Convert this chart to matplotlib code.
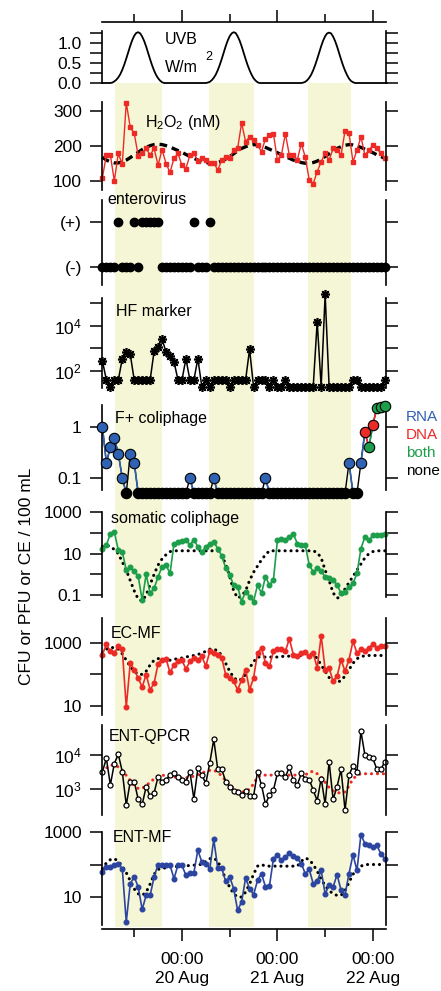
import numpy as np
import matplotlib
matplotlib.use("Agg")
import matplotlib.pyplot as plt
from matplotlib.ticker import FixedLocator, FixedFormatter, NullLocator

plt.rcParams['font.family'] = ['Liberation Sans', 'DejaVu Sans']
plt.rcParams['mathtext.fontset'] = 'custom'
plt.rcParams['mathtext.rm'] = 'Liberation Sans'
plt.rcParams['mathtext.it'] = 'Liberation Sans:italic'
plt.rcParams['mathtext.bf'] = 'Liberation Sans:bold'

# ---------------- data (hours since 00:00 20 Aug) ----------------
hours = np.arange(-20, 52)
daylight_start = [-16.8, 6.8, 31.7]
daylight_end = [-5.1, 18.1, 42.5]

uvb_hours = np.arange(-20, 51.75, 0.5)
uvb_day1 = [0.0, 0.01, 0.04, 0.08, 0.14, 0.22, 0.33, 0.46, 0.61, 0.77, 0.93, 1.07, 1.18, 1.25, 1.27,
            1.24, 1.16, 1.05, 0.91, 0.75, 0.59, 0.44, 0.31, 0.20, 0.12, 0.06, 0.02, 0.0, 0.0]
uvb_day2 = [0.0, 0.01, 0.03, 0.07, 0.13, 0.21, 0.32, 0.45, 0.60, 0.76, 0.92, 1.06, 1.17, 1.24, 1.27,
            1.25, 1.17, 1.06, 0.92, 0.76, 0.60, 0.45, 0.32, 0.21, 0.12, 0.06, 0.02, 0.0, 0.0]
uvb_day3 = [0.0, 0.01, 0.03, 0.07, 0.13, 0.21, 0.32, 0.45, 0.60, 0.76, 0.92, 1.06, 1.17, 1.24, 1.26,
            1.24, 1.16, 1.05, 0.91, 0.75, 0.59, 0.44, 0.31, 0.20, 0.11, 0.05, 0.02, 0.0, 0.0]
uvb = [0.0] * 4 + uvb_day1 + [0.0] * 19 + uvb_day2 + [0.0] * 19 + uvb_day3 + [0.0] * 15

h2o2 = [110, 174, 174, 101, 179, 148, 323, 253, 236, 173, 179, 193,
        174, 193, 145, 190, 150, 125, 165, 179, 145, 136, 174, 179,
        158, 165, 160, 153, 153, 131, 160, 169, 165, 188, 193, 266,
        212, 226, 218, 202, 184, 221, 230, 235, 160, 174, 235, 174,
        174, 160, 207, 169, 103, 93, 127, 155, 179, 160, 193, 188,
        174, 243, 236, 155, 188, 226, 174, 188, 202, 193, 179, 165]
h2o2_model = [168, 160, 155, 152, 152, 155, 160, 167, 175, 182, 190, 196,
              201, 204, 205, 204, 201, 197, 192, 187, 182, 176, 170, 165,
              160, 156, 153, 151, 151, 153, 157, 163, 170, 178, 186, 193,
              198, 202, 204, 203, 200, 196, 191, 186, 181, 175, 170, 165,
              160, 156, 153, 151, 151, 153, 157, 163, 170, 178, 186, 193,
              198, 202, 204, 203, 200, 196, 191, 186, 181, 175, 170, 165]

enterovirus = [0, 0, 0, 0, 1, 0, 0, 0, 1, 0, 1, 1,
               1, 1, 1, 0, 0, 0, 0, 0, 0, 0, 0, 1,
               0, 0, 0, 1, 0, 0, 0, 0, 0, 0, 0, 0,
               0, 0, 0, 0, 0, 0, 0, 0, 0, 0, 0, 0,
               0, 0, 0, 0, 0, 0, 0, 0, 0, 0, 0, 0,
               0, 0, 0, 0, 0, 0, 0, 0, 0, 0, 0, 0]

hf_marker = [280, 40, 20, 40, 40, 350, 700, 550, 40, 40, 40, 40,
             40, 750, 1200, 2500, 700, 450, 260, 40, 40, 350, 40, 40,
             350, 20, 40, 20, 40, 40, 40, 40, 20, 40, 40, 40,
             40, 900, 20, 40, 40, 40, 20, 40, 20, 20, 40, 20,
             20, 20, 20, 20, 20, 20, 15000, 20, 240000, 20, 20, 20,
             20, 20, 20, 40, 40, 20, 20, 20, 20, 20, 20, 40]

fplus = [1.0, 0.2, 0.4, 0.6, 0.3, 0.1, 0.05, 0.3, 0.2, 0.05, 0.05, 0.05,
         0.05, 0.05, 0.05, 0.05, 0.05, 0.05, 0.05, 0.05, 0.05, 0.05, 0.1, 0.05,
         0.05, 0.05, 0.05, 0.05, 0.1, 0.05, 0.05, 0.05, 0.05, 0.05, 0.05, 0.05,
         0.05, 0.05, 0.05, 0.05, 0.05, 0.1, 0.05, 0.05, 0.05, 0.05, 0.05, 0.05,
         0.05, 0.05, 0.05, 0.05, 0.05, 0.05, 0.05, 0.05, 0.05, 0.05, 0.05, 0.05,
         0.05, 0.05, 0.2, 0.05, 0.05, 0.2, 0.8, 0.4, 1.1, 2.4, 2.5, 2.6]
fplus_type = ['R', 'R', 'R', 'R', 'R', 'R', 'N', 'R', 'R', 'N', 'N', 'N',
              'N', 'N', 'N', 'N', 'N', 'N', 'N', 'N', 'N', 'N', 'R', 'N',
              'N', 'N', 'N', 'N', 'R', 'N', 'N', 'N', 'N', 'N', 'N', 'N',
              'N', 'N', 'N', 'N', 'N', 'R', 'N', 'N', 'N', 'N', 'N', 'N',
              'N', 'N', 'N', 'N', 'N', 'N', 'N', 'N', 'N', 'N', 'N', 'N',
              'N', 'N', 'R', 'N', 'N', 'R', 'D', 'B', 'D', 'B', 'B', 'B']
fplus_legend = ['RNA', 'DNA', 'both', 'none']

somatic_log10 = [1.25, 1.41, 1.97, 2.05, 1.17, 1.09, 0.2, 0.35, 0.15, -0.1, -1.25, 0.0,
                 -0.92, -0.68, -0.12, 0.37, 0.45, 0.04, 1.49, 1.57, 1.6, 1.68, 1.41, 1.68,
                 1.33, 1.09, 1.33, 1.49, 1.57, 1.25, 0.9, 0.3, -0.04, -0.52, -0.6, -1.32,
                 -0.84, -1.08, -1.32, -0.52, -0.92, -0.12, -0.52, -0.28, 1.65, 1.73, 1.68, 1.81,
                 1.97, 1.49, 1.41, 1.41, 0.45, 0.12, 0.29, 0.15, -0.12, -0.2, -0.28, -0.52,
                 -0.92, -0.84, -0.6, -0.44, 0.04, 1.25, 1.81, 1.65, 1.89, 1.89, 1.89, 1.97]
somatic_model_log10 = [1.35, 1.4, 1.35, 1.2, 1.0, 0.6, 0.2, -0.3, -0.8, -1.2, -1.3, -1.0,
                       -0.5, 0.0, 0.45, 0.75, 0.95, 1.1, 1.14, 1.14, 1.14, 1.14, 1.14, 1.14,
                       1.14, 1.14, 1.14, 1.14, 1.14, 1.14, 0.9, 0.5, -0.1, -0.8, -1.15, -1.05,
                       -0.8, -0.3, 0.1, 0.4, 0.7, 0.95, 1.14, 1.14, 1.14, 1.14, 1.14, 1.14,
                       1.14, 1.14, 1.14, 1.14, 1.14, 1.14, 1.05, 0.8, 0.2, -0.3, -0.9, -1.15,
                       -1.1, -0.7, -0.4, -0.1, 0.2, 0.5, 0.8, 1.0, 1.1, 1.14, 1.14, 1.14]

ecmf_log10 = [2.63, 2.95, 2.73, 2.68, 2.89, 2.79, 0.96, 2.36, 2.15, 1.88, 1.6, 1.99,
              1.51, 1.72, 2.34, 2.47, 2.49, 2.06, 2.31, 2.41, 2.45, 2.17, 2.41, 2.52,
              2.47, 2.57, 2.26, 2.73, 2.68, 2.63, 2.52, 1.99, 1.88, 1.78, 1.51, 1.83,
              2.15, 1.51, 1.88, 2.68, 2.84, 2.36, 2.26, 2.73, 2.79, 2.79, 2.73, 3.13,
              2.63, 2.57, 2.68, 2.7, 2.57, 2.68, 2.2, 3.23, 2.15, 2.2, 1.78, 1.94,
              2.47, 2.1, 2.47, 3.05, 2.68, 2.79, 2.73, 2.84, 2.95, 2.84, 2.89, 2.89]
ecmf_model_log10 = [2.68, 2.8, 2.85, 2.85, 2.8, 2.65, 2.45, 2.25, 2.1, 2.0, 2.0, 2.1,
                    2.3, 2.45, 2.5, 2.5, 2.45, 2.45, 2.48, 2.5, 2.52, 2.55, 2.58, 2.6,
                    2.63, 2.68, 2.73, 2.8, 2.8, 2.75, 2.6, 2.35, 2.1, 1.9, 1.8, 1.85,
                    2.0, 2.2, 2.4, 2.55, 2.55, 2.55, 2.55, 2.55, 2.55, 2.57, 2.57, 2.58,
                    2.58, 2.6, 2.6, 2.65, 2.68, 2.65, 2.5, 2.3, 2.1, 1.9, 1.8, 1.75,
                    1.8, 1.95, 2.15, 2.35, 2.5, 2.55, 2.6, 2.6, 2.6, 2.6, 2.6, 2.6]

qpcr_log10 = [3.51, 3.9, 3.12, 3.75, 4.02, 3.51, 2.53, 3.22, 3.22, 2.7, 2.55, 3.07,
              2.79, 2.89, 3.36, 3.22, 3.28, 3.41, 3.46, 3.36, 3.26, 3.22, 3.51, 2.71,
              3.61, 3.41, 3.17, 3.77, 4.46, 3.58, 3.58, 3.22, 3.07, 2.95, 2.92, 2.82,
              2.95, 2.79, 2.79, 3.51, 3.12, 2.56, 2.82, 2.97, 3.46, 3.48, 3.36, 3.64,
              3.26, 3.12, 3.46, 3.31, 3.28, 2.97, 2.66, 3.31, 2.56, 3.8, 2.7, 3.07,
              3.58, 2.38, 3.41, 3.68, 3.51, 4.69, 4.0, 3.95, 3.9, 3.58, 3.58, 3.8]
qpcr_model_log10 = [3.51, 3.62, 3.7, 3.7, 3.65, 3.55, 3.4, 3.25, 3.1, 3.02, 3.02, 3.1,
                    3.2, 3.3, 3.38, 3.4, 3.41, 3.39, 3.36, 3.34, 3.33, 3.33, 3.35, 3.38,
                    3.42, 3.47, 3.52, 3.55, 3.55, 3.5, 3.38, 3.25, 3.12, 3.02, 2.95, 2.92,
                    2.92, 3.0, 3.15, 3.35, 3.41, 3.41, 3.41, 3.41, 3.41, 3.41, 3.41, 3.41,
                    3.41, 3.41, 3.41, 3.41, 3.5, 3.52, 3.45, 3.35, 3.2, 3.05, 2.95, 2.9,
                    2.88, 2.92, 3.1, 3.3, 3.4, 3.45, 3.45, 3.45, 3.45, 3.45, 3.45, 3.45]

entmf_log10 = [1.77, 1.92, 1.92, 1.97, 2.03, 1.87, 0.23, 1.41, 1.62, 1.31, 0.62, 1.05,
               1.05, 1.62, 2.0, 1.99, 1.97, 1.99, 1.56, 1.99, 1.97, 1.67, 1.75, 1.75,
               2.44, 2.08, 2.03, 1.87, 2.77, 1.89, 1.89, 1.48, 1.62, 1.26, 0.59, 0.85,
               1.58, 1.26, 1.07, 1.51, 1.72, 1.31, 1.34, 2.18, 2.3, 2.13, 2.23, 2.36,
               2.26, 2.2, 2.03, 1.72, 1.85, 1.41, 1.48, 1.82, 1.1, 1.36, 1.31, 1.69,
               1.21, 1.07, 1.72, 2.3, 1.82, 2.92, 2.64, 2.59, 2.54, 2.59, 2.33, 2.18]
entmf_model_log10 = [1.87, 2.05, 2.15, 2.18, 2.1, 1.95, 1.75, 1.5, 1.25, 1.1, 1.05, 1.15,
                     1.4, 1.7, 1.85, 1.88, 1.9, 1.92, 1.93, 1.94, 1.95, 1.96, 1.97, 1.98,
                     2.0, 2.0, 2.1, 2.18, 2.2, 2.1, 1.85, 1.55, 1.3, 1.1, 1.0, 1.0,
                     1.15, 1.4, 1.7, 1.95, 2.0, 1.95, 1.95, 1.95, 1.95, 1.95, 1.95, 1.95,
                     1.95, 1.95, 2.1, 2.2, 2.15, 2.0, 1.8, 1.55, 1.35, 1.2, 1.1, 1.05,
                     1.05, 1.2, 1.45, 1.7, 1.85, 1.95, 2.0, 2.0, 2.0, 2.0, 2.0, 2.0]

time_ticks_major = [0, 24, 48]
time_ticks_minor = [-12, 12, 36]
time_tick_labels = ['00:00\n20 Aug', '00:00\n21 Aug', '00:00\n22 Aug']

# ---------------- styles ----------------
RED = '#ec2a26'
GREEN = '#1c9e4b'
BLUE_MF = '#2b45a0'
BLUE_F = '#2f62b2'
YELLOW = '#f5f6d5'
W_PX, H_PX = 441, 991
X0, X1 = 102, 386
XMIN, XMAX = -20.1, 51.3
TICK_FS = 12.5
LAB_FS = 11.5

fig = plt.figure(figsize=(W_PX / 100, H_PX / 100), dpi=100)


def box(top, bottom):
    return [X0 / W_PX, 1 - bottom / H_PX, (X1 - X0) / W_PX, (bottom - top) / H_PX]


def ftext(x, y, s, **kw):
    fig.text(x / W_PX, 1 - y / H_PX, s, **kw)


# background daylight shading
bg = fig.add_axes(box(83, 927), zorder=-1)
bg.set_xlim(XMIN, XMAX)
bg.set_ylim(0, 1)
for s0, s1 in zip(daylight_start, daylight_end):
    bg.axvspan(s0, s1, color=YELLOW, lw=0)
bg.axis('off')


def panel(top, bottom):
    ax = fig.add_axes(box(top, bottom))
    ax.patch.set_visible(False)
    ax.spines['top'].set_visible(False)
    ax.spines['bottom'].set_visible(False)
    for s in ['left', 'right']:
        ax.spines[s].set_linewidth(1.2)
    ax.set_xlim(XMIN, XMAX)
    ax.xaxis.set_visible(False)
    ax.tick_params(axis='y', which='both', left=True, right=True, labelright=False,
                   direction='out', length=8.5, width=1.1, labelsize=TICK_FS, pad=6)
    return ax


def log_ticks(ax, lo, hi, decades, labels):
    ax.set_yscale('log')
    ax.set_ylim(10 ** lo, 10 ** hi)
    ax.yaxis.set_major_locator(FixedLocator([10.0 ** d for d in decades]))
    ax.yaxis.set_major_formatter(FixedFormatter(labels))
    ax.yaxis.set_minor_locator(NullLocator())


# top time axis line
axt = fig.add_axes([X0 / W_PX, 1 - 22 / H_PX, (X1 - X0) / W_PX, 0.5 / H_PX])
axt.patch.set_visible(False)
for s in ['left', 'right', 'bottom']:
    axt.spines[s].set_visible(False)
axt.spines['top'].set_linewidth(1.2)
axt.set_xlim(XMIN, XMAX)
axt.set_yticks([])
axt.xaxis.set_ticks_position('top')
axt.set_xticks(time_ticks_major)
axt.set_xticks(time_ticks_minor, minor=True)
axt.tick_params(axis='x', which='major', direction='out', length=8.5, width=1.1, labeltop=False, labelbottom=False)
axt.tick_params(axis='x', which='minor', direction='out', length=5.5, width=1.1, labeltop=False, labelbottom=False)

# UVB
ax = panel(31, 83)
ax.set_ylim(0, 1.3)
ax.yaxis.set_major_locator(FixedLocator([0, 0.25, 0.5, 0.75, 1.0, 1.25]))
ax.yaxis.set_major_formatter(FixedFormatter(['0.0', '', '0.5', '', '1.0', '']))
ax.plot(uvb_hours, uvb, color='black', lw=1.3, clip_on=False)
ftext(165, 39, 'UVB', fontsize=LAB_FS, va='center')
ftext(165, 67, 'W/m', fontsize=LAB_FS, va='center')
ftext(205, 57, '2', fontsize=9, va='center')

# H2O2
ax = panel(102, 190)
ax.set_ylim(75, 325)
ax.set_yticks([100, 200, 300])
ax.plot(hours, h2o2_model, color='black', lw=2.4, ls=(0, (2.3, 1.5)), clip_on=False)
ax.plot(hours, h2o2, color=RED, lw=1.0, marker='s', ms=3.2, clip_on=False)
ftext(145, 123, 'H$_2$O$_2$ (nM)', fontsize=LAB_FS, va='center')

# enterovirus
ax = panel(200, 285)
ax.set_ylim(-0.4, 1.49)
ax.set_yticks([0, 1])
ax.set_yticklabels(['(-)', '(+)'])
ax.plot(hours, enterovirus, ls='none', marker='o', ms=6, color='black', clip_on=False)
ftext(107, 200, 'enterovirus', fontsize=LAB_FS, va='center')

# HF marker
ax = panel(298, 388)
log_ticks(ax, 1.25, 5.22, [2, 3, 4, 5], ['$10^2$', '', '$10^4$', ''])
ax.plot(hours, hf_marker, color='black', lw=1.1, marker=(8, 2, 0), ms=6.5, mew=1.2, clip_on=False)
ftext(116, 312, 'HF marker', fontsize=LAB_FS, va='center')

# F+ coliphage
ax = panel(405, 490)
log_ticks(ax, -1.235, 0.43, [-1, 0], ['0.1', '1'])
ftype_color = {'R': BLUE_F, 'D': RED, 'B': GREEN, 'N': 'black'}
ax.plot(hours, fplus, color='black', lw=1.0, clip_on=False, zorder=2)
for i in range(len(hours) - 1):
    c = ftype_color[fplus_type[i]]
    if c != 'black':
        ax.plot(hours[i:i + 2], fplus[i:i + 2], color=c, lw=1.2, clip_on=False, zorder=2.5)
for i in range(len(hours)):
    ax.plot(hours[i], fplus[i], ls='none', marker='o', ms=7.5, mfc=ftype_color[fplus_type[i]],
            mec='black', mew=0.8, clip_on=False, zorder=3)
ftext(115, 418, 'F+ coliphage', fontsize=LAB_FS, va='center')
for lab, yy, c in zip(fplus_legend, [417, 435, 453, 471], [BLUE_F, RED, GREEN, 'black']):
    ftext(406, yy, lab, fontsize=11, va='center', color=c)

# somatic coliphage
ax = panel(512, 597)
log_ticks(ax, -1.1, 3.02, [-1, 0, 1, 2, 3], ['0.1', '', '10', '', '1000'])
ax.plot(hours, 10 ** np.array(somatic_model_log10), color='black', lw=2.2, ls=(0, (0.05, 1.9)),
        dash_capstyle='round', clip_on=False)
ax.plot(hours, 10 ** np.array(somatic_log10), color=GREEN, lw=1.2, marker='o', ms=3.3, clip_on=False)
ftext(111, 518, 'somatic coliphage', fontsize=LAB_FS, va='center')

# EC-MF
ax = panel(618, 715)
log_ticks(ax, 0.71, 3.79, [1, 2, 3], ['10', '', '1000'])
ax.plot(hours, 10 ** np.array(ecmf_model_log10), color='black', lw=2.2, ls=(0, (0.05, 1.9)),
        dash_capstyle='round', clip_on=False)
ax.plot(hours, 10 ** np.array(ecmf_log10), color=RED, lw=1.2, marker='o', ms=3.3, clip_on=False)
ftext(111, 633, 'EC-MF', fontsize=LAB_FS, va='center')

# ENT-QPCR
ax = panel(725, 815)
log_ticks(ax, 2.24, 4.88, [3, 4], ['$10^3$', '$10^4$'])
ax.plot(hours, 10 ** np.array(qpcr_model_log10), color=RED, lw=2.2, ls=(0, (0.05, 1.9)),
        dash_capstyle='round', clip_on=False)
ax.plot(hours, 10 ** np.array(qpcr_log10), color='black', lw=1.1, marker='o', ms=3.6, mfc='white',
        mew=0.9, clip_on=False)
ftext(109, 736, 'ENT-QPCR', fontsize=LAB_FS, va='center')

# ENT-MF
ax = panel(832, 925)
log_ticks(ax, 0.14, 3.0, [1, 2, 3], ['10', '', '1000'])
ax.plot(hours, 10 ** np.array(entmf_model_log10), color='black', lw=2.2, ls=(0, (0.05, 1.9)),
        dash_capstyle='round', clip_on=False)
ax.plot(hours, 10 ** np.array(entmf_log10), color=BLUE_MF, lw=1.2, marker='o', ms=3.3, clip_on=False)
ftext(113, 838, 'ENT-MF', fontsize=LAB_FS, va='center')

# bottom time axis
axb = fig.add_axes([X0 / W_PX, 1 - 929 / H_PX, (X1 - X0) / W_PX, 0.5 / H_PX])
axb.patch.set_visible(False)
for s in ['left', 'right', 'top']:
    axb.spines[s].set_visible(False)
axb.spines['bottom'].set_linewidth(1.2)
axb.set_xlim(XMIN, XMAX)
axb.set_yticks([])
axb.set_xticks(time_ticks_major)
axb.set_xticklabels(time_tick_labels, fontsize=TICK_FS, linespacing=1.35)
axb.set_xticks(time_ticks_minor, minor=True)
axb.tick_params(axis='x', which='major', direction='out', length=8.5, width=1.1, pad=8)
axb.tick_params(axis='x', which='minor', direction='out', length=5.5, width=1.1)

# y-axis label
ftext(27, 576, 'CFU or PFU or CE / 100 mL', fontsize=12.5, rotation=90, va='center', ha='center')

fig.savefig('out.png', dpi=100)
